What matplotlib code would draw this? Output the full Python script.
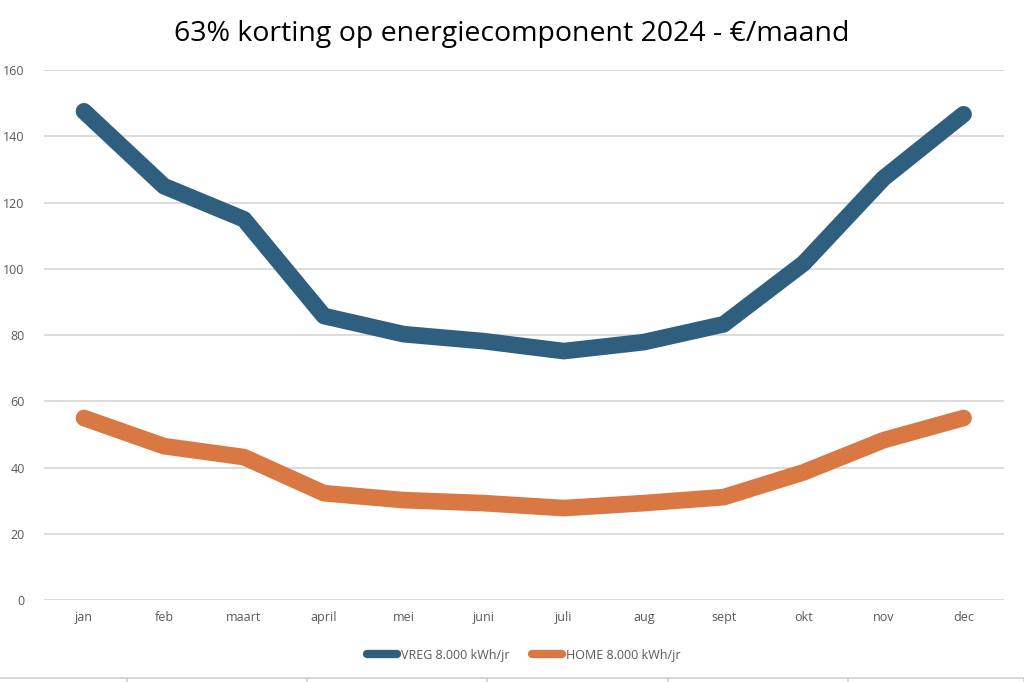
import matplotlib.pyplot as plt
from matplotlib.lines import Line2D
import numpy as np

months = ["jan", "feb", "maart", "april", "mei", "juni", "juli", "aug", "sept", "okt", "nov", "dec"]
vreg = [147.6, 125.0, 115.0, 85.8, 80.3, 78.2, 75.2, 77.9, 83.3, 101.7, 127.4, 146.7]
home = [55.0, 46.5, 43.2, 32.3, 30.2, 29.3, 27.8, 29.3, 31.1, 38.6, 48.3, 55.0]
yticks = [0, 20, 40, 60, 80, 100, 120, 140, 160]

plt.rcParams['font.family'] = ['Open Sans', 'DejaVu Sans']

fig = plt.figure(figsize=(10.24, 6.82), dpi=100)
ax = fig.add_axes([0.043, 0.120, 0.937, 0.777])

x = np.arange(len(months))
ax.plot(x, vreg, color="#2E5F7F", lw=12, solid_capstyle="round", solid_joinstyle="round",
        label="VREG 8.000 kWh/jr", zorder=3)
ax.plot(x, home, color="#D97842", lw=12, solid_capstyle="round", solid_joinstyle="round",
        label="HOME 8.000 kWh/jr", zorder=3)

ax.set_xlim(-0.5, len(months) - 0.5)
ax.set_ylim(0, 160)
ax.set_yticks(yticks)
ax.set_xticks(x)
ax.set_xticklabels(months)
ax.grid(axis="y", color="#D9D9D9", lw=1.3)
ax.set_axisbelow(True)
for s in ax.spines.values():
    s.set_visible(False)
ax.tick_params(length=0, labelsize=9, colors="#595959")
ax.tick_params(axis="x", pad=8)
ax.tick_params(axis="y", pad=14)

fig.suptitle("63% korting op energiecomponent 2024 - €/maand", y=0.97, fontsize=20.5, color="#000000")

leg = ax.legend(loc="upper center", bbox_to_anchor=(0.5, -0.07), ncol=2, frameon=False,
                fontsize=9, handlelength=2.4, columnspacing=1.8, handletextpad=0.3)
for t in leg.get_texts():
    t.set_color("#595959")
for h in leg.get_lines():
    h.set_linewidth(6)
    h.set_solid_capstyle("round")

# cropped border of the chart frame at the bottom
fig.add_artist(Line2D([0, 1], [0.006, 0.006], color="#D0D0D0", lw=1.2))
for xt in [0.124, 0.30, 0.476, 0.652, 0.828, 1.0]:
    fig.add_artist(Line2D([xt, xt], [0.0, 0.006], color="#D0D0D0", lw=1.2))

fig.savefig("out.png", dpi=100)
